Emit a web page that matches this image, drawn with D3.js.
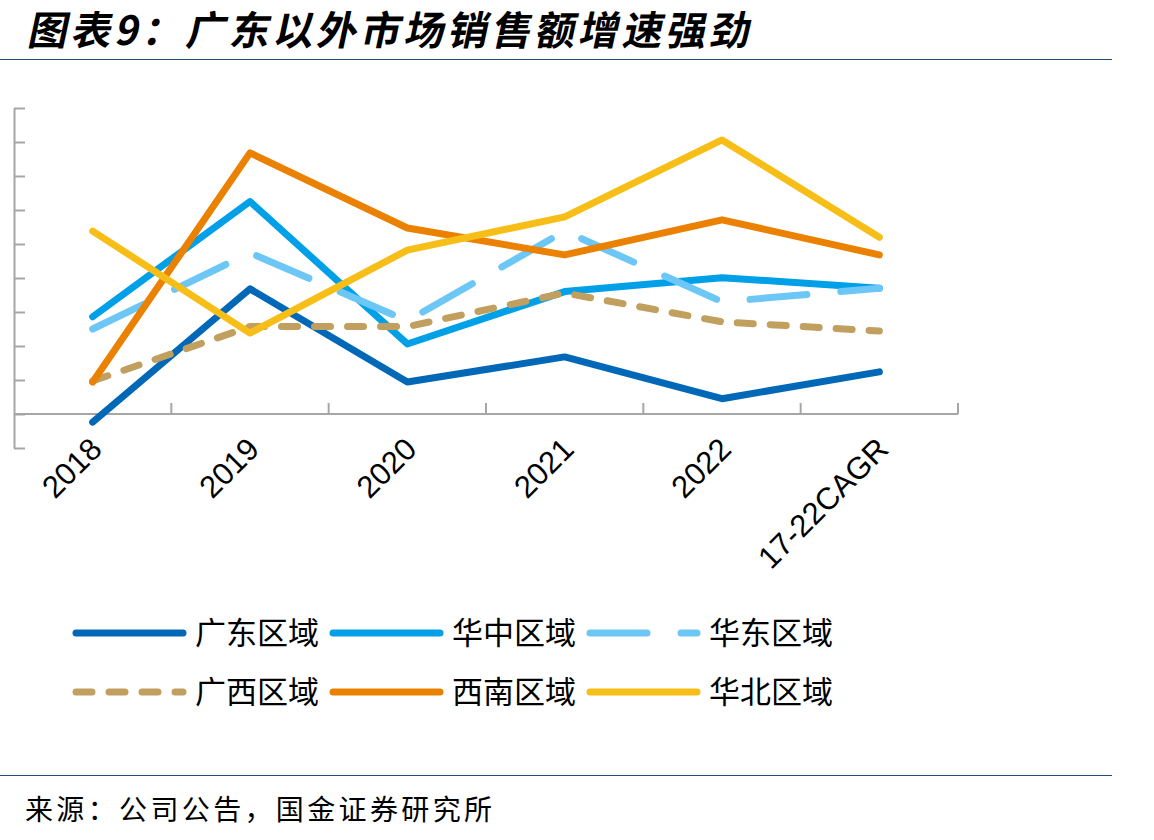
<!DOCTYPE html>
<html>
<head>
<meta charset="utf-8">
<script src="https://cdn.jsdelivr.net/npm/d3@7"></script>
<style>
  body { margin: 0; background: #fff; }
  svg { display: block; }
</style>
</head>
<body>
<div id="chart"></div>
<script>
var w = 1154, h = 840

// data (y in units of one tick step; the original has no y labels)
var categories = ["2018", "2019", "2020", "2021", "2022", "17-22CAGR"]
var seriesNames = ["广东区域", "华中区域", "华东区域", "广西区域", "西南区域", "华北区域"]
var guangdong = [-2.4, 36.8, 9.4, 16.8, 4.5, 12.4]
var huazhong  = [28.6, 62.5, 20.6, 36.0, 40.1, 37.0]
var huadong   = [25.0, 47.4, 27.4, 53.8, 33.0, 37.0]
var guangxi   = [9.7, 25.7, 25.7, 35.6, 27.1, 24.4]
var xinan     = [9.4, 76.8, 54.7, 46.8, 57.1, 46.8]
var huabei    = [53.8, 23.8, 48.2, 58.0, 80.6, 52.0]
var yTicks = d3.range(-10, 91, 10)

var series = [
	{name: seriesNames[0], values: guangdong, colour: "#0068B7", dash: null},
	{name: seriesNames[1], values: huazhong, colour: "#00A0E9", dash: null},
	{name: seriesNames[2], values: huadong, colour: "#6CC7F6", dash: "57,34"},
	{name: seriesNames[3], values: guangxi, colour: "#C19F5F", dash: "16,17"},
	{name: seriesNames[4], values: xinan, colour: "#EB8100", dash: null},
	{name: seriesNames[5], values: huabei, colour: "#F8BE18", dash: null}
]

var svg = d3.select("#chart")
	.append("svg")
	.attr("width", w)
	.attr("height", h)

// title + rules
svg.append("text")
	.attr("x", 28)
	.attr("y", 45)
	.attr("transform", "translate(8,0) skewX(-12)")
	.attr("textLength", 722)
	.attr("lengthAdjust", "spacing")
	.style("font-family", "'Noto Sans CJK SC'")
	.style("font-weight", 700)
	.style("font-size", "40px")
	.text("图表9：广东以外市场销售额增速强劲")

svg.append("line")
	.attr("x1", 0).attr("x2", 1112)
	.attr("y1", 59.5).attr("y2", 59.5)
	.style("stroke", "#1f4e79")
	.style("stroke-width", 1.2)

svg.append("line")
	.attr("x1", 0).attr("x2", 1112)
	.attr("y1", 775.5).attr("y2", 775.5)
	.style("stroke", "#1f4e79")
	.style("stroke-width", 1.2)

svg.append("text")
	.attr("x", 25)
	.attr("y", 820)
	.attr("textLength", 467)
	.attr("lengthAdjust", "spacing")
	.style("font-family", "'Noto Sans CJK SC'")
	.style("font-size", "28px")
	.text("来源：公司公告，国金证券研究所")

// scales
var x = d3.scaleBand()
	.domain(categories)
	.range([14, 958])

var y = d3.scaleLinear()
	.domain([-10, 90])
	.range([448, 108])

var cx = function(i) { return x(categories[i]) + x.bandwidth() / 2 }

// y axis, ticks inside
var yAxis = svg.append("g")
	.attr("transform", "translate(14,0)")
	.call(d3.axisLeft(y).tickValues(yTicks).tickSize(-11).tickSizeOuter(0).tickFormat(""))
yAxis.selectAll("path, line").style("stroke", "#a6a6a6").style("stroke-width", 2)

// x axis at zero, ticks on band edges
var xAxisG = svg.append("g")
xAxisG.append("line")
	.attr("x1", 14).attr("x2", 958)
	.attr("y1", y(0)).attr("y2", y(0))
	.style("stroke", "#a6a6a6")
	.style("stroke-width", 2)

xAxisG.selectAll(".xtick")
	.data(categories)
	.enter()
	.append("line")
	.attr("x1", function(d) { return x(d) + x.bandwidth() })
	.attr("x2", function(d) { return x(d) + x.bandwidth() })
	.attr("y1", y(0))
	.attr("y2", y(0) - 11)
	.style("stroke", "#a6a6a6")
	.style("stroke-width", 2)

xAxisG.selectAll(".xlabel")
	.data(categories)
	.enter()
	.append("text")
	.attr("transform", function(d, i) { return "translate(" + (cx(i) + 11) + "," + (y(0) + 37) + ") rotate(-45)" })
	.attr("text-anchor", "end")
	.style("font-family", "'Liberation Sans', Arial")
	.style("font-size", "31px")
	.text(function(d) { return d })

// lines
var line = d3.line()
	.x(function(d, i) { return cx(i) })
	.y(function(d) { return y(d) })

svg.append("g")
	.selectAll("path")
	.data(series)
	.enter()
	.append("path")
	.attr("d", function(d) { return line(d.values) })
	.style("fill", "none")
	.style("stroke", function(d) { return d.colour })
	.style("stroke-width", 7)
	.style("stroke-linecap", "round")
	.style("stroke-linejoin", "round")
	.style("stroke-dasharray", function(d) { return d.dash })

// legend
var legend = svg.append("g")
	.selectAll("g")
	.data(series)
	.enter()
	.append("g")
	.attr("transform", function(d, i) { return "translate(" + (76 + (i % 3) * 257) + "," + (633 + Math.floor(i / 3) * 59) + ")" })

legend.append("line")
	.attr("x1", 0).attr("x2", 107)
	.attr("y1", 0).attr("y2", 0)
	.style("stroke", function(d) { return d.colour })
	.style("stroke-width", 7)
	.style("stroke-linecap", "round")
	.style("stroke-dasharray", function(d) { return d.dash })

legend.append("text")
	.attr("x", 119)
	.attr("y", 0)
	.attr("dy", "0.36em")
	.style("font-family", "'Noto Sans CJK SC'")
	.style("font-size", "31px")
	.text(function(d) { return d.name })
</script>
</body>
</html>
